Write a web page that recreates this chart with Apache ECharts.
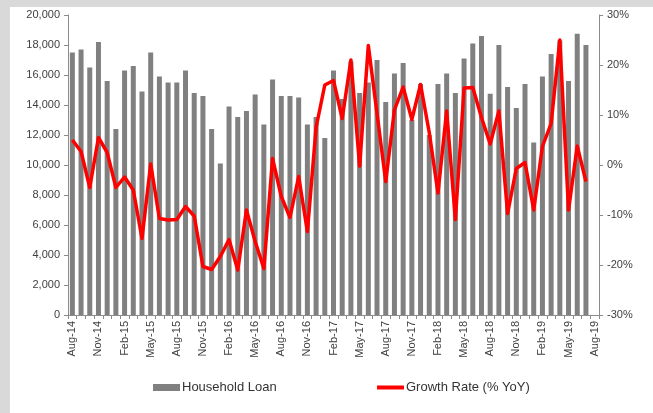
<!DOCTYPE html>
<html>
<head>
<meta charset="utf-8">
<script src="https://cdn.jsdelivr.net/npm/echarts@6/dist/echarts.min.js"></script>
<style>
  html, body { margin: 0; padding: 0; background: #d9d9d9; }
  #panel { position: absolute; left: 10px; top: 7px; width: 643px; height: 406px; background: #ffffff; }
  #chart { position: absolute; left: 0; top: 0; width: 653px; height: 413px; }
</style>
</head>
<body>
<div id="panel"></div>
<div id="chart"></div>
<script>
// Monthly categories, Aug-14 .. Aug-19
const months = [
  'Aug-14','Sep-14','Oct-14','Nov-14','Dec-14',
  'Jan-15','Feb-15','Mar-15','Apr-15','May-15','Jun-15','Jul-15','Aug-15','Sep-15','Oct-15','Nov-15','Dec-15',
  'Jan-16','Feb-16','Mar-16','Apr-16','May-16','Jun-16','Jul-16','Aug-16','Sep-16','Oct-16','Nov-16','Dec-16',
  'Jan-17','Feb-17','Mar-17','Apr-17','May-17','Jun-17','Jul-17','Aug-17','Sep-17','Oct-17','Nov-17','Dec-17',
  'Jan-18','Feb-18','Mar-18','Apr-18','May-18','Jun-18','Jul-18','Aug-18','Sep-18','Oct-18','Nov-18','Dec-18',
  'Jan-19','Feb-19','Mar-19','Apr-19','May-19','Jun-19','Jul-19','Aug-19'
];

// Household loan balance (left axis)
const householdLoan = [
  17500, 17700, 16500, 18200, 15600,
  12400, 16300, 16600, 14900, 17500, 15900, 15500, 15500, 16300, 14800, 14600, 12400,
  10100, 13900, 13200, 13600, 14700, 12700, 15700, 14600, 14600, 14500, 12700, 13200,
  11800, 16300, 14400, 16900, 14800, 15500, 17000, 14200, 16100, 16800, 13000, 15400,
  12000, 15400, 16100, 14800, 17100, 18100, 18600, 14750, 18000, 15200, 13800, 15400,
  11500, 15900, 17400, 18300, 15600, 18750, 18000, null
];

// Year-on-year growth rate in percent (right axis)
const growthRate = [
  5.0, 2.7, -4.5, 5.5, 2.5,
  -4.5, -2.4, -5.0, -14.7, 0.2, -10.7, -11.0, -10.9, -8.3, -10.2, -20.3, -20.9,
  -18.3, -14.9, -21.0, -9.0, -15.3, -20.7, 1.3, -6.3, -10.5, -2.3, -13.3, 7.5,
  16.0, 16.9, 9.3, 21.0, -0.2, 23.9, 10.3, -3.3, 11.0, 15.6, 9.1, 16.1,
  6.5, -5.6, 10.8, -10.9, 15.4, 15.5, 9.5, 4.2, 10.8, -9.7, -0.7, 0.5,
  -9.0, 3.7, 8.3, 25.0, -9.0, 3.8, -3.3, null
];

const axisTextColor = '#404040';
const axisLineColor = '#8c8c8c';
const font = 'Liberation Sans, Arial, sans-serif';

const chart = echarts.init(document.getElementById('chart'), null, { renderer: 'canvas' });
chart.setOption({
  backgroundColor: 'transparent',
  animation: false,
  grid: { left: 68, right: 54, top: 15, bottom: 98, containLabel: false },
  legend: [
    {
      left: 148, top: 376,
      itemWidth: 27, itemHeight: 7,
      textStyle: { fontFamily: font, fontSize: 13, color: '#333333', padding: [0, 0, 0, -3] },
      data: [{ name: 'Household Loan', icon: 'rect' }]
    },
    {
      left: 372, top: 376,
      itemWidth: 27, itemHeight: 4,
      textStyle: { fontFamily: font, fontSize: 13, color: '#333333', padding: [0, 0, 0, -3] },
      data: [{ name: 'Growth Rate (% YoY)', icon: 'rect' }]
    }
  ],
  xAxis: {
    type: 'category',
    data: months,
    boundaryGap: true,
    axisLine: { lineStyle: { color: axisLineColor, width: 1 } },
    axisTick: { show: true, interval: 0, length: 4, lineStyle: { color: axisLineColor } },
    axisLabel: {
      interval: 2, rotate: 90, margin: 6,
      fontFamily: font, fontSize: 11, color: axisTextColor
    },
    splitLine: { show: false }
  },
  yAxis: [
    {
      type: 'value', min: 0, max: 20000, interval: 2000,
      axisLine: { show: true, lineStyle: { color: axisLineColor } },
      axisTick: { show: true, length: 4, lineStyle: { color: axisLineColor } },
      axisLabel: {
        margin: 8, fontFamily: font, fontSize: 11, color: axisTextColor,
        formatter: v => v.toLocaleString('en-US')
      },
      splitLine: { show: false }
    },
    {
      type: 'value', min: -30, max: 30, interval: 10, position: 'right',
      axisLine: { show: true, lineStyle: { color: axisLineColor } },
      axisTick: { show: true, length: 4, lineStyle: { color: axisLineColor } },
      axisLabel: {
        margin: 8, fontFamily: font, fontSize: 11, color: axisTextColor,
        formatter: '{value}%'
      },
      splitLine: { show: false }
    }
  ],
  series: [
    {
      name: 'Household Loan',
      type: 'bar',
      yAxisIndex: 0,
      data: householdLoan,
      barWidth: 5,
      itemStyle: { color: '#808080' }
    },
    {
      name: 'Growth Rate (% YoY)',
      type: 'line',
      yAxisIndex: 1,
      data: growthRate,
      symbol: 'none',
      lineStyle: { color: '#ff0000', width: 3.5, join: 'round' },
      itemStyle: { color: '#ff0000' }
    }
  ]
});
</script>
</body>
</html>
